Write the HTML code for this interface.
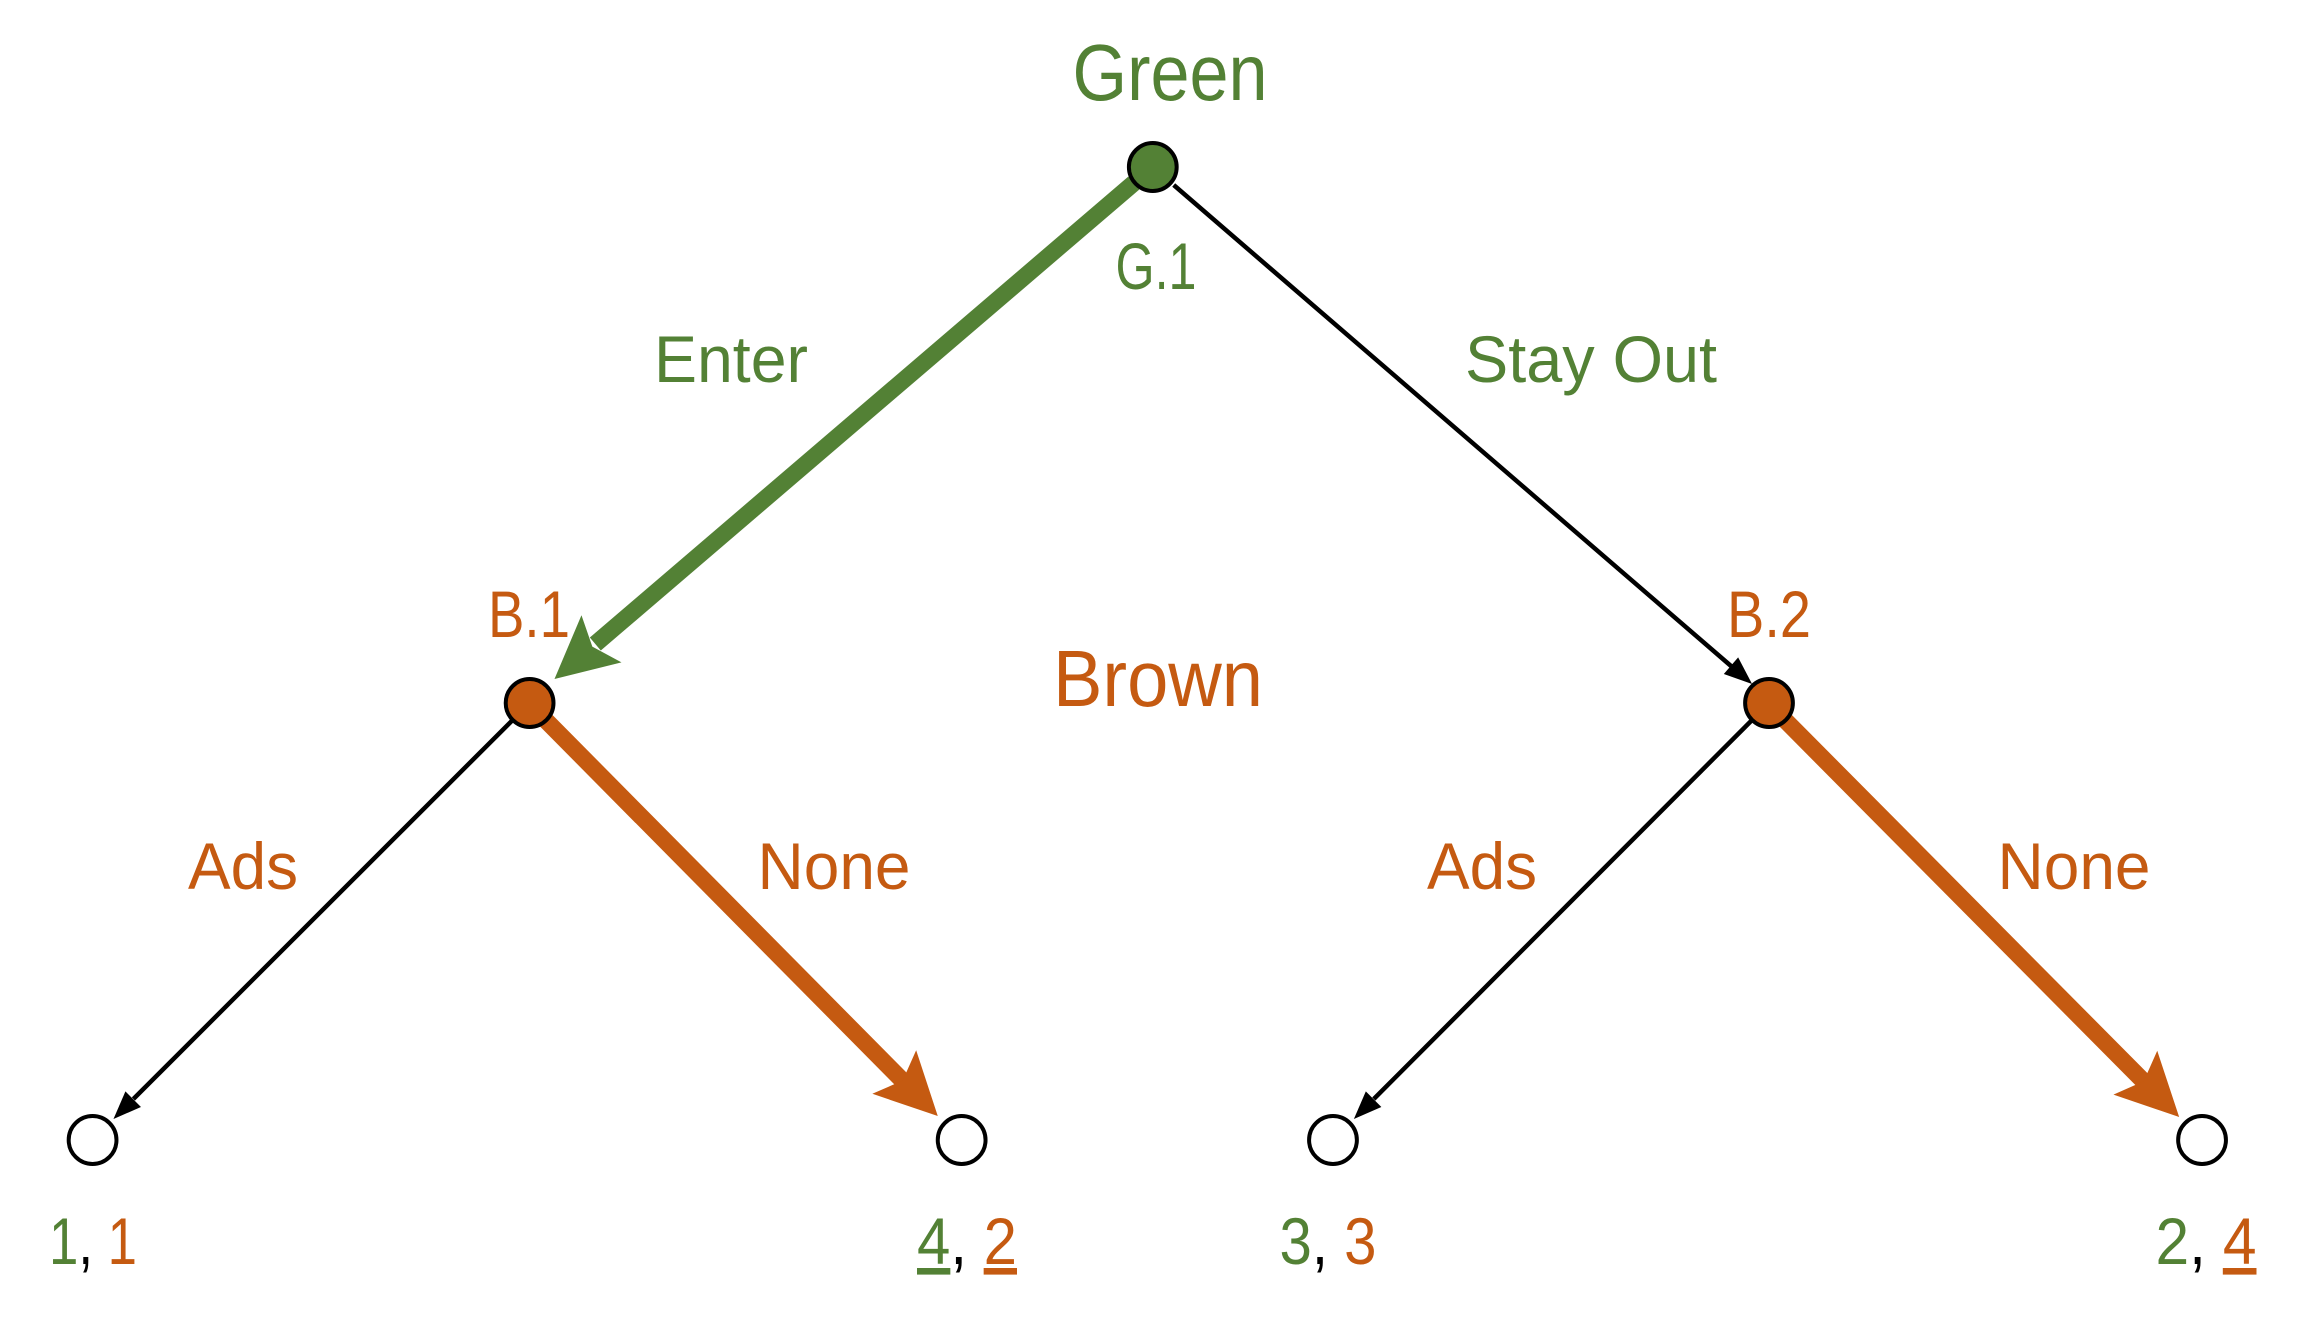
<!DOCTYPE html>
<html><head><meta charset="utf-8"><style>
html,body{margin:0;padding:0;background:#fff;}
svg{display:block;}
text{font-family:"Liberation Sans Narrow","Liberation Sans",sans-serif;}
</style></head><body>
<svg width="2300" height="1329" viewBox="0 0 2300 1329" xmlns="http://www.w3.org/2000/svg">
<rect width="2300" height="1329" fill="#fff"/>
<g transform="scale(0.9955 1)">
<!-- edges -->
<line x1="1139" y1="183" x2="598" y2="644" stroke="#538135" stroke-width="17"/>
<polygon points="557,679 584.1,615.2 595,646.6 624.3,662.4" fill="#538135"/>
<line x1="1179" y1="185" x2="1740" y2="667" stroke="#000" stroke-width="4.5"/>
<polygon points="1760,684 1731.6,674 1746,657.4" fill="#000"/>
<line x1="514" y1="721" x2="134" y2="1099" stroke="#000" stroke-width="4.5"/>
<polygon points="114,1119 141.6,1107 126,1091.4" fill="#000"/>
<line x1="547" y1="719" x2="908" y2="1082" stroke="#C55A11" stroke-width="17"/>
<polygon points="942,1116 876.3,1093.8 906.8,1080.5 920.3,1050.2" fill="#C55A11"/>
<line x1="1759" y1="721" x2="1380" y2="1099" stroke="#000" stroke-width="4.5"/>
<polygon points="1360,1119 1387.6,1107 1372,1091.4" fill="#000"/>
<line x1="1792" y1="719" x2="2155" y2="1083" stroke="#C55A11" stroke-width="17"/>
<polygon points="2189,1117 2123,1094.6 2153.4,1081.2 2167,1050.8" fill="#C55A11"/>
<!-- nodes -->
<circle cx="1158" cy="167" r="24" fill="#538135" stroke="#000" stroke-width="4"/>
<circle cx="532" cy="703" r="24" fill="#C55A11" stroke="#000" stroke-width="4"/>
<circle cx="1777" cy="703" r="24" fill="#C55A11" stroke="#000" stroke-width="4"/>
<circle cx="93" cy="1140" r="24" fill="#fff" stroke="#000" stroke-width="4"/>
<circle cx="966" cy="1140" r="24" fill="#fff" stroke="#000" stroke-width="4"/>
<circle cx="1339" cy="1140" r="24" fill="#fff" stroke="#000" stroke-width="4"/>
<circle cx="2212" cy="1140" r="24" fill="#fff" stroke="#000" stroke-width="4"/>
</g>
<!-- labels -->
<g font-size="80" text-anchor="middle">
<text x="1170" y="100" fill="#538135" textLength="195" lengthAdjust="spacingAndGlyphs">Green</text>
<text x="1158" y="706" fill="#C55A11" textLength="210" lengthAdjust="spacingAndGlyphs">Brown</text>
</g>
<g font-size="66" text-anchor="middle">
<text x="1156" y="289" fill="#538135" textLength="81" lengthAdjust="spacingAndGlyphs">G.1</text>
<text x="731" y="382" fill="#538135" textLength="154" lengthAdjust="spacingAndGlyphs">Enter</text>
<text x="1591" y="382" fill="#538135" textLength="252" lengthAdjust="spacingAndGlyphs">Stay Out</text>
<text x="529" y="637" fill="#C55A11" textLength="82" lengthAdjust="spacingAndGlyphs">B.1</text>
<text x="1769" y="637" fill="#C55A11" textLength="84" lengthAdjust="spacingAndGlyphs">B.2</text>
<text x="243" y="889" fill="#C55A11" textLength="110" lengthAdjust="spacingAndGlyphs">Ads</text>
<text x="834" y="889" fill="#C55A11" textLength="153" lengthAdjust="spacingAndGlyphs">None</text>
<text x="1482" y="889" fill="#C55A11" textLength="110" lengthAdjust="spacingAndGlyphs">Ads</text>
<text x="2074" y="889" fill="#C55A11" textLength="153" lengthAdjust="spacingAndGlyphs">None</text>
<text x="93" y="1264" textLength="88" lengthAdjust="spacingAndGlyphs"><tspan fill="#538135">1</tspan><tspan fill="#000">, </tspan><tspan fill="#C55A11">1</tspan></text>
<text x="967" y="1264" textLength="100" lengthAdjust="spacingAndGlyphs"><tspan fill="#538135" text-decoration="underline">4</tspan><tspan fill="#000">, </tspan><tspan fill="#C55A11" text-decoration="underline">2</tspan></text>
<text x="1328" y="1264" textLength="97" lengthAdjust="spacingAndGlyphs"><tspan fill="#538135">3</tspan><tspan fill="#000">, </tspan><tspan fill="#C55A11">3</tspan></text>
<text x="2206" y="1264" textLength="101" lengthAdjust="spacingAndGlyphs"><tspan fill="#538135">2</tspan><tspan fill="#000">, </tspan><tspan fill="#C55A11" text-decoration="underline">4</tspan></text>
</g>
</svg>
</body></html>
